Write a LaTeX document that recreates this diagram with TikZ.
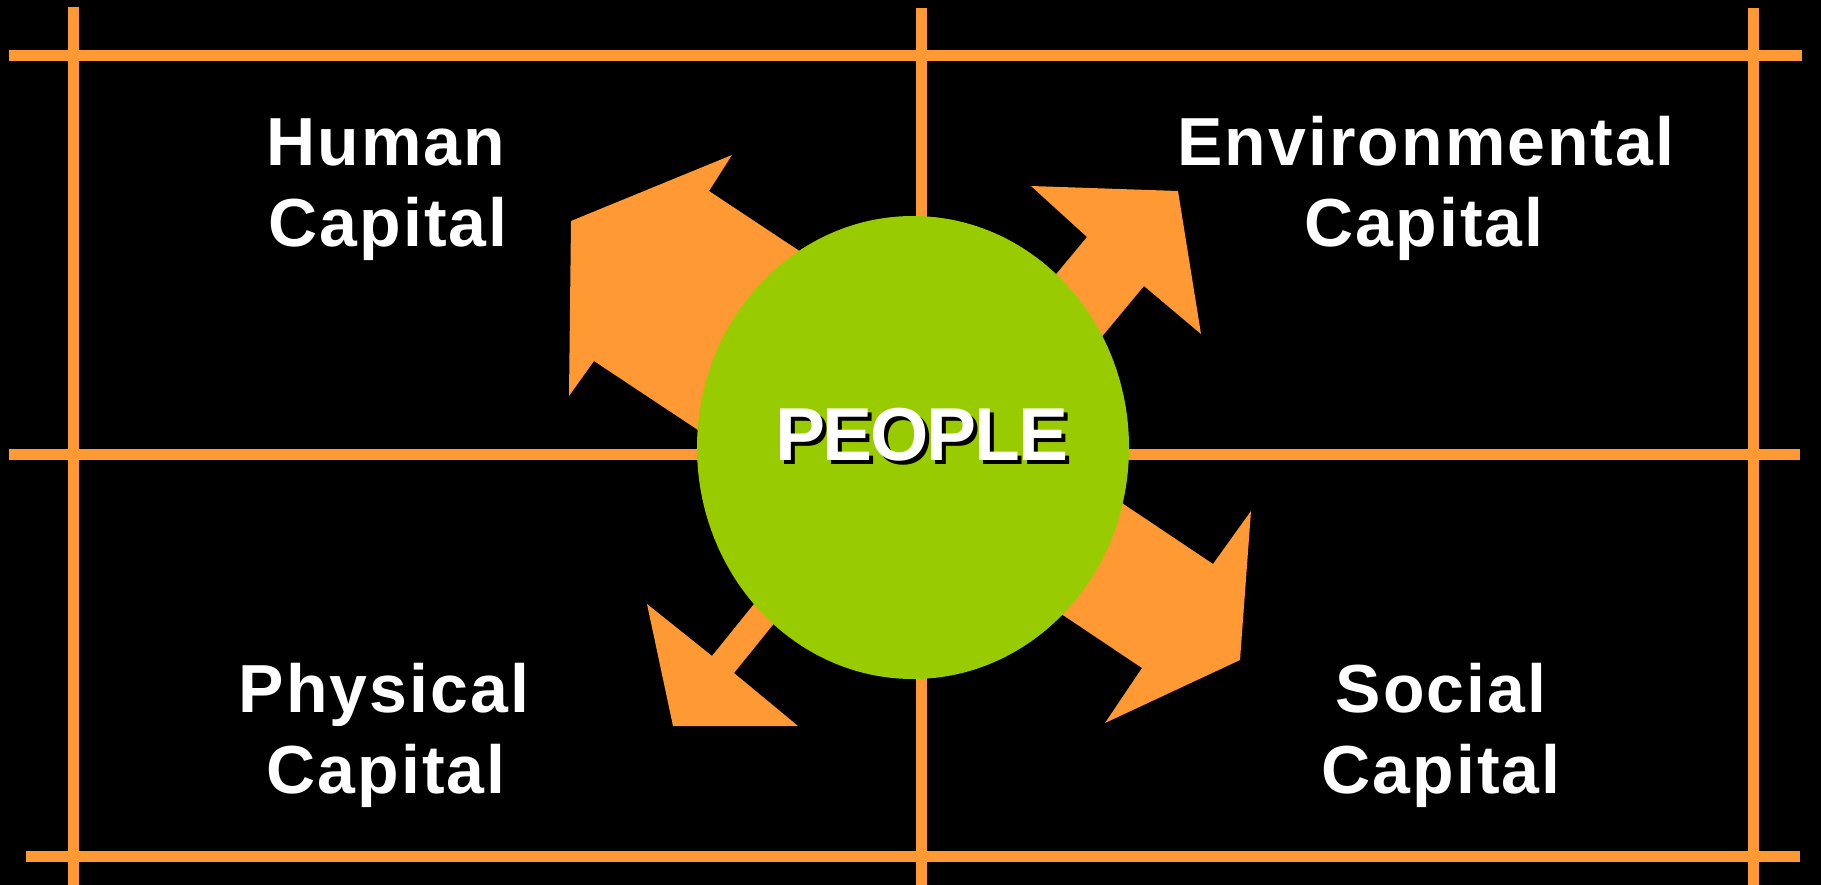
\documentclass[tikz,border=0pt]{standalone}
\usepackage{fontspec}
\usetikzlibrary{shapes.geometric}
\newfontfamily\lblfont{Liberation Sans}[LetterSpace=3]
\newfontfamily\pplfont{Liberation Sans}[LetterSpace=-3]
\definecolor{org}{HTML}{FF9933}
\definecolor{grn}{HTML}{99CC00}
\begin{document}
\begin{tikzpicture}[x=1pt,y=-1pt,
  gridline/.style={draw=org, line width=11pt},
  arrowshape/.style={fill=org},
  lbl/.style={text=white, anchor=base, inner sep=0pt, font=\lblfont\bfseries\fontsize{68}{68}\selectfont},
  ppl/.style={anchor=base, inner sep=0pt, font=\pplfont\bfseries\fontsize{75}{75}\selectfont}]
\fill[black] (0,0) rectangle (1821,885);
\useasboundingbox (0,0) rectangle (1821,885);
% grid coordinates
\coordinate (hTopL) at (9,55.5);   \coordinate (hTopR) at (1802,55.5);
\coordinate (hMidL) at (9,454);    \coordinate (hMidR) at (1800,454);
\coordinate (hBotL) at (26,856);   \coordinate (hBotR) at (1800,856);
\coordinate (vLT) at (73.5,7);     \coordinate (vLB) at (73.5,885);
\coordinate (vMT) at (921,8);      \coordinate (vMB) at (921,885);
\coordinate (vRT) at (1753,8);     \coordinate (vRB) at (1753,885);
\draw[gridline] (hTopL) -- (hTopR);
\draw[gridline] (hMidL) -- (hMidR);
\draw[gridline] (hBotL) -- (hBotR);
\draw[gridline] (vLT) -- (vLB);
\draw[gridline] (vMT) -- (vMB);
\draw[gridline] (vRT) -- (vRB);
% arrows
\fill[arrowshape] (917,329) -- (709,191) -- (732,155) -- (571,221) -- (569,396) -- (594,361) -- (802,499) -- cycle;
\fill[arrowshape] (959,391) -- (1087,237) -- (1031,186) -- (1178,191) -- (1201,334) -- (1144,286) -- (1016,440) -- cycle;
\fill[arrowshape] (825,516) -- (712,656) -- (647,604) -- (673,726) -- (798,726) -- (734,673) -- (847,533) -- cycle;
\fill[arrowshape] (980,408) -- (1213,564) -- (1251,511) -- (1240,660) -- (1105,723) -- (1142,668) -- (909,512) -- cycle;
% circle
\node[ellipse, fill=grn, minimum width=432pt, minimum height=463pt, inner sep=0pt] (people) at (913,447.5) {};
\node[ppl, text=black] (pplshadow) at (925.5,464) {PEOPLE};
\node[ppl, text=white] (ppltext) at (921.5,460) {PEOPLE};
% labels
\node[lbl] (human1) at (386,166) {Human};
\node[lbl] (human2) at (388,247) {Capital};
\node[lbl] (env1) at (1426,166) {Environmental};
\node[lbl] (env2) at (1424,247) {Capital};
\node[lbl] (phys1) at (384,712) {Physical};
\node[lbl] (phys2) at (386,793) {Capital};
\node[lbl] (soc1) at (1441,712) {Social};
\node[lbl] (soc2) at (1441,793) {Capital};
\end{tikzpicture}
\end{document}
